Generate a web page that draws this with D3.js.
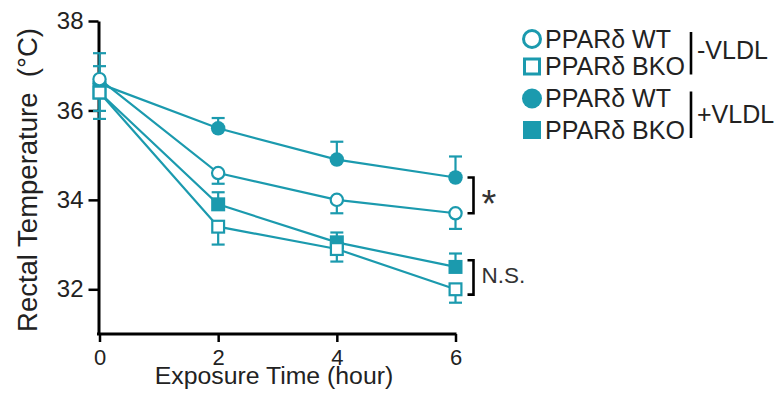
<!DOCTYPE html>
<html>
<head>
<meta charset="utf-8">
<script src="https://cdn.jsdelivr.net/npm/d3@7"></script>
<style>
  body { margin: 0; background: #fff; }
  svg { display: block; font-family: "Liberation Sans", Arial, sans-serif; }
</style>
</head>
<body>
<svg id="chart" width="778" height="398"></svg>
<script>
// Exposure time points (hours)
const hours = [0, 2, 4, 6];

// Mean rectal temperature (°C) per group
const wtMinus  = [36.7, 34.6, 34.0, 33.7];   // PPARδ WT, -VLDL (open circle)
const bkoMinus = [36.4, 33.4, 32.9, 32.0];   // PPARδ BKO, -VLDL (open square)
const wtPlus   = [36.6, 35.6, 34.9, 34.5];   // PPARδ WT, +VLDL (filled circle)
const bkoPlus  = [36.4, 33.9, 33.05, 32.5];  // PPARδ BKO, +VLDL (filled square)

// One-sided SEM bars
const wtMinusErr  = [0.71, 0.24, 0.3, 0.35];
const bkoMinusErr = [0.59, 0.4, 0.28, 0.3];
const wtPlusErr   = [0.68, 0.23, 0.4, 0.47];
const bkoPlusErr  = [0.59, 0.27, 0.22, 0.3];

const yTicks = [32, 34, 36, 38];
const xTicks = [0, 2, 4, 6];

const legendLabels = ["PPARδ WT", "PPARδ BKO", "PPARδ WT", "PPARδ BKO"];
const conditionLabels = ["-VLDL", "+VLDL"];

// Significance brackets at the last time point
const sigLabels = ["*", "N.S."];
const sigTop    = [34.5, 32.65];
const sigBottom = [33.7, 31.88];

const teal = "#1b9aae";
const ink = "#222";
const fontStack = "Liberation Sans, Arial, sans-serif";

const svg = d3.select("#chart");

const x = d3.scaleLinear().domain([0, 6]).range([99.5, 455.5]);
const y = d3.scaleLinear().domain([31, 38]).range([334, 21]);

// Axes
const yAxis = svg.append("g")
  .attr("transform", "translate(98.5,0)")
  .call(d3.axisLeft(y).tickValues(yTicks).tickFormat(d3.format("d"))
    .tickSize(10).tickSizeOuter(0).tickPadding(5));
yAxis.attr("font-size", null).attr("font-family", null);
yAxis.select(".domain").attr("stroke", "#000").attr("stroke-width", 3);
yAxis.selectAll(".tick line").attr("stroke", "#000").attr("stroke-width", 2.5);
yAxis.selectAll(".tick text").attr("font-size", 24).attr("fill", ink)
  .attr("font-family", fontStack);

const xAxis = svg.append("g")
  .attr("transform", "translate(0,334)")
  .call(d3.axisBottom(x).tickValues(xTicks).tickFormat(d3.format("d"))
    .tickSize(8).tickSizeOuter(0).tickPadding(7));
xAxis.attr("font-size", null).attr("font-family", null);
xAxis.select(".domain").attr("stroke", "#000").attr("stroke-width", 3)
  .attr("d", `M97,0H${x(6) + 1}`);
xAxis.selectAll(".tick line").attr("stroke", "#000").attr("stroke-width", 2.5);
xAxis.selectAll(".tick text").attr("font-size", 22).attr("fill", ink)
  .attr("font-family", fontStack);

// Axis titles
svg.append("text")
  .attr("transform", "translate(37,180) rotate(-90)")
  .attr("text-anchor", "middle")
  .attr("font-size", 27.5)
  .attr("fill", ink)
  .style("white-space", "pre")
  .text("Rectal Temperature  (°C)");

svg.append("text")
  .attr("x", 274).attr("y", 384)
  .attr("text-anchor", "middle")
  .attr("font-size", 24.8)
  .attr("fill", ink)
  .text("Exposure Time (hour)");

// Series definitions: draw order keeps open markers on top
const series = [
  { values: wtPlus,   err: wtPlusErr,   dir: 1,  shape: "circle", filled: true },
  { values: bkoPlus,  err: bkoPlusErr,  dir: 1,  shape: "square", filled: true },
  { values: bkoMinus, err: bkoMinusErr, dir: -1, shape: "square", filled: false },
  { values: wtMinus,  err: wtMinusErr,  dir: -1, shape: "circle", filled: false },
];

const line = d3.line().x((d, i) => x(hours[i])).y(d => y(d));

// Lines
series.forEach(s => {
  svg.append("path")
    .attr("d", line(s.values))
    .attr("fill", "none")
    .attr("stroke", teal)
    .attr("stroke-width", 2.2);
});

// Error bars
series.forEach(s => {
  const g = svg.append("g").attr("stroke", teal).attr("stroke-width", 2.2);
  s.values.forEach((v, i) => {
    const cx = x(hours[i]);
    const end = y(v + s.dir * s.err[i]);
    g.append("line").attr("x1", cx).attr("x2", cx).attr("y1", y(v)).attr("y2", end);
    g.append("line").attr("x1", cx - 6.5).attr("x2", cx + 6.5).attr("y1", end).attr("y2", end);
  });
});

// Markers
function drawMarker(g, shape, filled, cx, cy, size, sw) {
  if (shape === "circle") {
    g.append("circle")
      .attr("cx", cx).attr("cy", cy)
      .attr("r", filled ? size / 2 : size / 2 - sw / 2)
      .attr("fill", filled ? teal : "#fff")
      .attr("stroke", filled ? "none" : teal)
      .attr("stroke-width", sw);
  } else {
    const side = filled ? size : size - sw;
    g.append("rect")
      .attr("x", cx - side / 2).attr("y", cy - side / 2)
      .attr("width", side).attr("height", side)
      .attr("fill", filled ? teal : "#fff")
      .attr("stroke", filled ? "none" : teal)
      .attr("stroke-width", sw);
  }
}

series.forEach(s => {
  const g = svg.append("g");
  s.values.forEach((v, i) => {
    drawMarker(g, s.shape, s.filled, x(hours[i]), y(v), s.shape === "circle" ? 14.5 : 14, 2.2);
  });
});

// Significance brackets
sigLabels.forEach((lab, k) => {
  const bx = x(6) + 18;
  const t = y(sigTop[k]), b = y(sigBottom[k]);
  svg.append("path")
    .attr("d", `M${bx - 6},${t}H${bx}V${b}H${bx - 6}`)
    .attr("fill", "none")
    .attr("stroke", "#000")
    .attr("stroke-width", 2.6);
  if (lab === "*") {
    svg.append("text")
      .attr("x", bx + 8).attr("y", (t + b) / 2 + 22)
      .attr("font-size", 38)
      .attr("fill", "#333")
      .text(lab);
  } else {
    svg.append("text")
      .attr("x", bx + 8).attr("y", (t + b) / 2 + 5.5)
      .attr("font-size", 22.5)
      .attr("fill", "#333")
      .text(lab);
  }
});

// Legend
const legendShapes = [
  { shape: "circle", filled: false },
  { shape: "square", filled: false },
  { shape: "circle", filled: true },
  { shape: "square", filled: true },
];
const legendRowY = [39, 66.5, 98.5, 130];
const lg = svg.append("g");
legendShapes.forEach((m, i) => {
  drawMarker(lg, m.shape, m.filled, 532, legendRowY[i], m.shape === "circle" ? 20 : 18, 3);
  lg.append("text")
    .attr("x", 545).attr("y", legendRowY[i] + 8.5)
    .attr("font-size", 25)
    .attr("fill", ink)
    .text(legendLabels[i]);
});
conditionLabels.forEach((lab, k) => {
  const top = legendRowY[k * 2] - 7, bottom = legendRowY[k * 2 + 1] + 8;
  lg.append("line")
    .attr("x1", 691).attr("x2", 691)
    .attr("y1", top).attr("y2", bottom)
    .attr("stroke", "#000").attr("stroke-width", 2.6);
  lg.append("text")
    .attr("x", 697).attr("y", (top + bottom) / 2 + (k === 0 ? 6 : 8))
    .attr("font-size", 25)
    .attr("fill", ink)
    .text(lab);
});
</script>
</body>
</html>
